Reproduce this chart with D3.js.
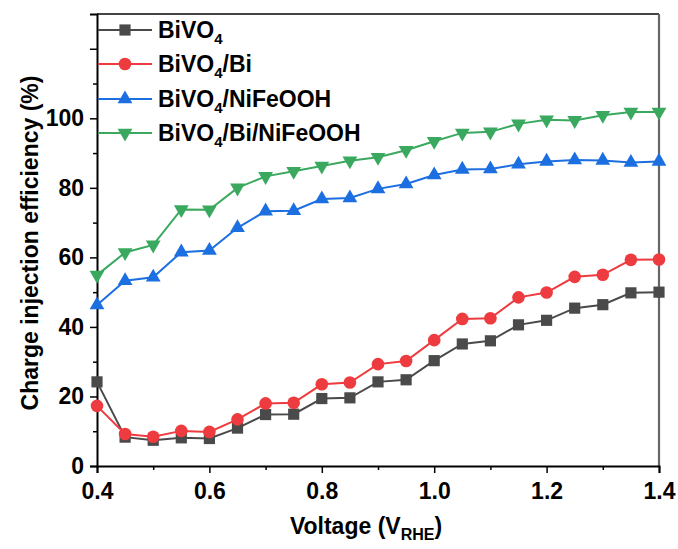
<!DOCTYPE html>
<html>
<head>
<meta charset="utf-8">
<script src="https://cdn.jsdelivr.net/npm/d3@7"></script>
<style>
  html, body { margin: 0; padding: 0; background: #fff; }
  svg { display: block; }
  text { font-family: "Liberation Sans", Arial, sans-serif; font-weight: bold; fill: #000; }
</style>
</head>
<body>
<svg id="chart" width="678" height="549"></svg>
<script>
// Applied potential (V vs RHE)
const voltage = [0.40, 0.45, 0.50, 0.55, 0.60, 0.65, 0.70, 0.75, 0.80, 0.85, 0.90,
                 0.95, 1.00, 1.05, 1.10, 1.15, 1.20, 1.25, 1.30, 1.35, 1.40];

// Charge injection efficiency (%) for each photoanode
const bivo4 = [24.2, 8.3, 7.4, 8.1, 7.9, 10.9, 14.8, 14.9, 19.4, 19.6, 24.2,
               24.8, 30.3, 35.1, 36.0, 40.6, 41.9, 45.4, 46.4, 49.8, 50.0];
const bivo4Bi = [17.3, 9.2, 8.4, 10.1, 9.8, 13.4, 18.0, 18.2, 23.5, 24.0, 29.3,
                 30.2, 36.2, 42.3, 42.5, 48.5, 49.9, 54.4, 55.0, 59.3, 59.4];
const bivo4NiFeOOH = [46.3, 53.3, 54.3, 61.5, 62.0, 68.5, 73.3, 73.4, 76.8, 77.1, 79.7,
                      81.1, 83.7, 85.3, 85.4, 86.8, 87.6, 88.0, 87.9, 87.3, 87.6];
const bivo4BiNiFeOOH = [54.9, 61.4, 63.6, 73.8, 73.7, 80.0, 83.3, 84.8, 86.3, 87.8, 88.8,
                        90.8, 93.4, 95.8, 96.1, 98.4, 99.6, 99.4, 100.9, 101.8, 101.8];

const seriesNames = ["BiVO4", "BiVO4/Bi", "BiVO4/NiFeOOH", "BiVO4/Bi/NiFeOOH"];
const seriesValues = [bivo4, bivo4Bi, bivo4NiFeOOH, bivo4BiNiFeOOH];
const seriesColors = ["#4a4a4a", "#ee3b3f", "#1c6fe0", "#3aa95f"];
const seriesSymbols = ["square", "circle", "triangle", "triangleDown"];

const xTicks = [0.4, 0.6, 0.8, 1.0, 1.2, 1.4];
const yTickLabels = [0, 20, 40, 60, 80, 100];

const svg = d3.select("#chart");
const plot = { left: 97, right: 659, top: 14, bottom: 466 };
const FONT = "Liberation Sans, Arial, sans-serif";

const x = d3.scaleLinear().domain([0.4, 1.4]).range([plot.left, plot.right]);
const y = d3.scaleLinear().domain([0, 130]).range([plot.bottom, plot.top]);

// Frame: top and right edges drawn in grey
svg.append("line").attr("x1", plot.left).attr("x2", plot.right)
  .attr("y1", plot.top).attr("y2", plot.top)
  .attr("stroke", "#444").attr("stroke-width", 2);
svg.append("line").attr("x1", plot.right).attr("x2", plot.right)
  .attr("y1", plot.top).attr("y2", plot.bottom)
  .attr("stroke", "#666").attr("stroke-width", 2.2);

// X axis with minor ticks every 0.1
const xMinor = d3.axisBottom(x).tickValues(d3.range(0.5, 1.4, 0.2)).tickSize(4).tickFormat("");
const xMajor = d3.axisBottom(x).tickValues(xTicks).tickSize(7).tickPadding(10)
  .tickFormat(d3.format(".1f"));
svg.append("g").attr("transform", `translate(0,${plot.bottom})`).call(xMinor)
  .call(g => g.select(".domain").remove())
  .call(g => g.selectAll("line").attr("stroke", "#000").attr("stroke-width", 1.5));
const gx = svg.append("g").attr("transform", `translate(0,${plot.bottom})`).call(xMajor);
gx.select(".domain").attr("stroke", "#000").attr("stroke-width", 2);
gx.selectAll("line").attr("stroke", "#000").attr("stroke-width", 1.5);
gx.selectAll("text").style("font-size", "23px").style("font-family", FONT)
  .style("font-weight", "bold").attr("fill", "#000");

// Y axis: labelled majors to 100, unlabelled major at 120, minors every 10
const yMinor = d3.axisLeft(y).tickValues(d3.range(10, 130, 20)).tickSize(4).tickFormat("");
const yMajor = d3.axisLeft(y).tickValues([0, 20, 40, 60, 80, 100, 120]).tickSize(7).tickPadding(6)
  .tickFormat(d => yTickLabels.includes(d) ? d : "");
svg.append("g").attr("transform", `translate(${plot.left},0)`).call(yMinor)
  .call(g => g.select(".domain").remove())
  .call(g => g.selectAll("line").attr("stroke", "#000").attr("stroke-width", 1.5));
const gy = svg.append("g").attr("transform", `translate(${plot.left},0)`).call(yMajor);
gy.select(".domain").attr("stroke", "#000").attr("stroke-width", 2);
gy.selectAll("line").attr("stroke", "#000").attr("stroke-width", 1.5);
gy.selectAll("text").style("font-size", "23px").style("font-family", FONT)
  .style("font-weight", "bold").attr("fill", "#000");

// Marker paths
function symbolPath(kind) {
  if (kind === "square") return d3.symbol(d3.symbolSquare, 125)();
  if (kind === "circle") return d3.symbol(d3.symbolCircle, 125)();
  return d3.symbol(d3.symbolTriangle, 95)();
}
function symbolTransform(kind, px, py) {
  return kind === "triangleDown" ? `translate(${px},${py}) rotate(180)` : `translate(${px},${py})`;
}

const line = d3.line().x(d => x(d[0])).y(d => y(d[1]));

seriesValues.forEach((vals, i) => {
  const pts = voltage.map((v, j) => [v, vals[j]]);
  const g = svg.append("g");
  g.append("path").datum(pts).attr("d", line)
    .attr("fill", "none").attr("stroke", seriesColors[i]).attr("stroke-width", 2);
  g.selectAll("path.pt").data(pts).join("path").attr("class", "pt")
    .attr("d", symbolPath(seriesSymbols[i]))
    .attr("transform", d => symbolTransform(seriesSymbols[i], x(d[0]), y(d[1])))
    .attr("fill", seriesColors[i]);
});

// Legend
const legendRowY = [30, 64, 99, 133];
seriesNames.forEach((name, i) => {
  const ly = legendRowY[i];
  svg.append("line").attr("x1", 98).attr("x2", 152).attr("y1", ly).attr("y2", ly)
    .attr("stroke", seriesColors[i]).attr("stroke-width", 2);
  svg.append("path").attr("d", symbolPath(seriesSymbols[i]))
    .attr("transform", symbolTransform(seriesSymbols[i], 125, ly))
    .attr("fill", seriesColors[i]);
  const t = svg.append("text").attr("x", 158).attr("y", ly + 7.5).style("font-size", "23px");
  const parts = name.split("4");
  t.append("tspan").text(parts[0]);
  t.append("tspan").text("4").attr("dy", 6).style("font-size", "15px");
  if (parts[1]) t.append("tspan").text(parts[1]).attr("dy", -6);
});

// Axis titles
svg.append("text")
  .attr("transform", `translate(38,243) rotate(-90)`)
  .attr("text-anchor", "middle").style("font-size", "23px")
  .text("Charge injection efficiency (%)");

const xt = svg.append("text").attr("x", 366).attr("y", 534)
  .attr("text-anchor", "middle").style("font-size", "23px");
xt.append("tspan").text("Voltage (V");
xt.append("tspan").text("RHE").attr("dy", 6).style("font-size", "16px");
xt.append("tspan").text(")").attr("dy", -6);
</script>
</body>
</html>
